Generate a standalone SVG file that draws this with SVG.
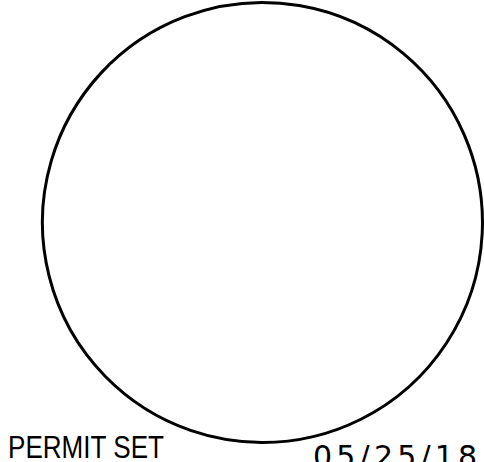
<svg xmlns="http://www.w3.org/2000/svg" width="484" height="462" viewBox="0 0 484 462">
<style>
.ring{fill:none;stroke:#000;stroke-width:3}
.lbl{font-family:"Liberation Sans",Arial,sans-serif;fill:#000}
.mono{font-family:"DejaVu Sans","Liberation Sans",sans-serif;fill:#000}
</style>
<rect width="484" height="462" fill="#fff"/>
<g id="circle">
<path class="ring" d="M190.5 430.4 A220 220 0 1 1 262 442.5 A220 220 0 0 1 190.5 430.4"/>
</g>
<g id="permit">
<text class="lbl" x="8" y="458" font-size="32" textLength="156" lengthAdjust="spacingAndGlyphs">PERMIT SET</text>
</g>
<g id="date">
<text class="mono" x="313" y="467" font-size="30" letter-spacing="4.2">05/25/18</text>
</g>
</svg>
